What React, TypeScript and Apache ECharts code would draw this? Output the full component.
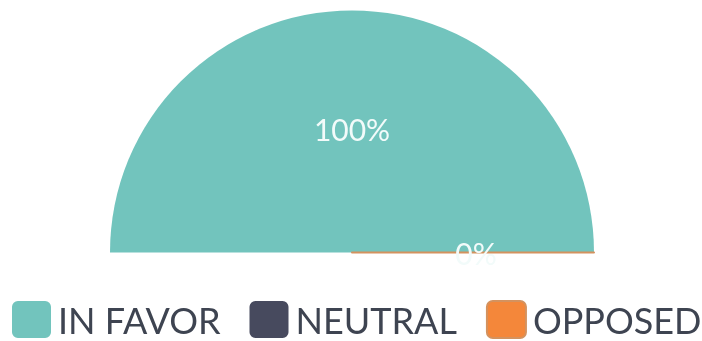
import React, { useEffect, useRef } from "react";
import * as echarts from "echarts";

const categories = ["IN FAVOR", "NEUTRAL", "OPPOSED"];
const values = [100, 0, 0];
const colors = ["#72c4bd", "#474a5e", "#f4873a"];

const ICON =
  "path://M6,0H34A6,6,0,0,1,40,6V32A6,6,0,0,1,34,38H6A6,6,0,0,1,0,32V6A6,6,0,0,1,6,0Z";

export default function App() {
  const ref = useRef<HTMLDivElement>(null);
  useEffect(() => {
    if (!ref.current) return;
    const chart = echarts.init(ref.current, undefined, { renderer: "svg" });
    const data = categories.map((name, i) => ({
      name,
      value: values[i],
      itemStyle:
        i === 2
          ? { color: colors[i], borderColor: "#d4925e", borderWidth: 2 }
          : { color: colors[i], borderWidth: 0 },
    }));
    chart.setOption({
      animation: false,
      color: colors,
      legend: {
        data: categories,
        left: 12,
        top: 300,
        width: 700,
        padding: 0,
        itemWidth: 39,
        itemHeight: 38,
        itemGap: 29,
        icon: ICON,
        selectedMode: false,
        textStyle: {
          fontFamily: "Lato",
          fontSize: 36,
          lineHeight: 38,
          color: "#3e4451",
          padding: [0, 0, 0, 2],
        },
      },
      series: [
        {
          type: "pie",
          center: [352, 252.5],
          radius: [0, 242],
          startAngle: 180,
          endAngle: 0,
          clockwise: true,
          avoidLabelOverlap: false,
          silent: true,
          label: {
            show: true,
            position: "inside",
            formatter: "{d}%",
            fontFamily: "Lato",
            fontSize: 30,
            color: "#f2fbfa",
          },
          labelLine: { show: false },
          emphasis: { disabled: true },
          data,
        },
      ],
    });
    return () => chart.dispose();
  }, []);
  return (
    <div
      ref={ref}
      style={{ position: "fixed", left: 0, top: 0, width: 702, height: 341 }}
    />
  );
}
